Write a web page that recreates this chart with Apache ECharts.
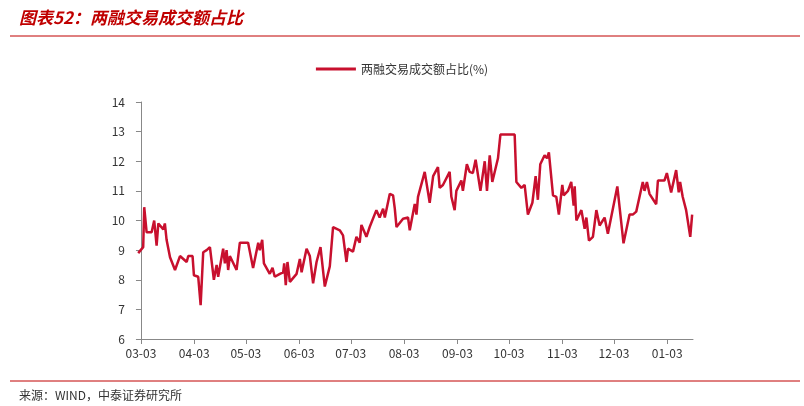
<!DOCTYPE html>
<html>
<head>
<meta charset="utf-8">
<script src="https://cdn.jsdelivr.net/npm/echarts@6/dist/echarts.min.js"></script>
<style>
  body { margin: 0; background: #fff; }
  #main { width: 804px; height: 406px; }
</style>
</head>
<body>
<div id="main"></div>
<script>
// 距 03-03 的天数
var days = [-1.6,1.3,1.9,3.3,6.2,7.7,9.1,10.1,13.0,13.9,14.9,16.9,19.8,22.7,26.6,27.5,30.0,30.8,33.3,34.7,36.2,38.2,40.1,42.4,44.0,44.9,47.8,48.8,49.8,50.7,51.7,55.6,57.5,59.8,62.3,65.2,68.2,69.1,70.5,71.5,74.9,76.5,77.8,80.8,82.7,83.3,84.2,85.2,86.6,90.5,92.4,93.4,96.3,98.2,100.1,102.1,104.4,106.9,109.8,111.7,115.6,117.5,119.5,120.4,123.3,125.3,127.2,128.2,131.1,133.0,136.9,138.8,140.8,141.8,144.7,146.6,147.6,148.6,152.4,155.3,156.3,159.2,160.2,161.1,165.0,167.9,169.9,172.7,173.7,175.6,179.5,180.5,182.4,183.4,186.3,187.2,189.5,191.1,193.0,194.6,197.4,199.9,201.2,202.8,204.3,207.6,209.0,211.5,214.4,217.3,218.3,221.2,223.1,225.0,227.6,229.5,230.8,232.2,234.7,236.1,237.2,239.6,241.5,243.0,245.0,245.8,248.3,250.2,251.6,252.2,253.2,256.1,258.0,259.0,260.5,262.8,264.8,266.7,269.6,271.5,277.0,280.6,284.1,286.0,288.0,291.8,292.8,294.2,295.7,299.6,300.6,304.4,305.8,308.3,311.2,312.7,313.5,315.0,317.0,319.4,320.5];
// 两融交易成交额占比(%)
var ratio = [8.9,9.1,10.45,9.6,9.6,10.0,9.15,9.9,9.7,9.9,9.35,8.76,8.33,8.8,8.6,8.8,8.8,8.15,8.1,7.14,8.93,9.0,9.1,8.0,8.5,8.1,9.05,8.55,9.0,8.33,8.8,8.33,9.25,9.25,9.25,8.4,9.25,9.0,9.35,8.55,8.2,8.4,8.1,8.2,8.25,8.55,7.82,8.6,7.93,8.2,8.7,8.25,9.05,8.8,7.88,8.6,9.1,7.77,8.45,9.78,9.67,9.5,8.6,9.05,8.95,9.45,9.25,9.85,9.45,9.78,10.35,10.1,10.4,10.1,10.9,10.85,10.4,9.78,10.06,10.1,9.67,10.56,10.2,10.8,11.64,10.6,11.5,11.8,11.1,11.2,11.64,10.8,10.35,11.0,11.35,11.0,11.9,11.64,11.6,12.05,11.0,12.0,11.0,12.2,11.3,12.1,12.9,12.9,12.9,12.9,11.3,11.1,11.2,10.2,10.6,11.5,10.7,11.9,12.2,12.1,12.3,10.85,10.8,10.2,11.2,10.85,11.0,11.3,10.5,11.15,10.0,10.35,9.72,10.1,9.32,9.45,10.35,9.83,10.1,9.55,11.15,9.23,10.2,10.2,10.3,11.3,11.0,11.3,10.9,10.55,11.35,11.35,11.6,10.95,11.7,10.95,11.3,10.8,10.35,9.45,10.2];
var tickDays = [0,31,61,92,122,153,184,214,245,275,306];
var tickLabels = ['03-03','04-03','05-03','06-03','07-03','08-03','09-03','10-03','11-03','12-03','01-03'];

var points = days.map(function(d, i){ return [d, ratio[i]]; });

var chart = echarts.init(document.getElementById('main'));
var option = {
  animation: false,
  textStyle: { fontFamily: 'Noto Sans CJK SC' },
  title: [{
    text: '图表52：两融交易成交额占比',
    left: 14, top: 4,
    textStyle: { color: '#c00000', fontSize: 17, fontWeight: 'bold', fontStyle: 'italic' }
  }, {
    text: '来源：WIND，中泰证券研究所',
    left: 14, top: 384,
    textStyle: { color: '#333', fontSize: 12, fontWeight: 'normal' }
  }],
  graphic: [
    { type: 'line', shape: { x1: 10, y1: 36, x2: 800, y2: 36 }, style: { stroke: '#c00000', lineWidth: 1 } },
    { type: 'line', shape: { x1: 10, y1: 381, x2: 800, y2: 381 }, style: { stroke: '#c00000', lineWidth: 1 } }
  ],
  legend: {
    data: ['两融交易成交额占比(%)'],
    top: 58, left: 'center',
    icon: 'rect', itemWidth: 40, itemHeight: 3,
    textStyle: { fontSize: 12, color: '#333' }
  },
  grid: { left: 137, right: 111, top: 102, bottom: 67 },
  xAxis: {
    type: 'value', min: -2.3, max: 321,
    splitLine: { show: false },
    axisLine: { lineStyle: { color: '#888' } },
    axisTick: { customValues: tickDays, lineStyle: { color: '#888' } },
    axisLabel: {
      customValues: tickDays, color: '#333', fontSize: 12,
      formatter: function(v){ return tickLabels[tickDays.indexOf(v)]; }
    }
  },
  yAxis: {
    type: 'value', min: 6, max: 14, interval: 1,
    splitLine: { show: false },
    axisLine: { show: true, lineStyle: { color: '#888' } },
    axisTick: { show: true, lineStyle: { color: '#888' } },
    axisLabel: { color: '#333', fontSize: 12, margin: 12 }
  },
  series: [{
    name: '两融交易成交额占比(%)',
    type: 'line',
    data: points,
    showSymbol: false,
    itemStyle: { color: '#c8102e' },
    lineStyle: { color: '#c8102e', width: 2.5 }
  }]
};
chart.setOption(option);
</script>
</body>
</html>
